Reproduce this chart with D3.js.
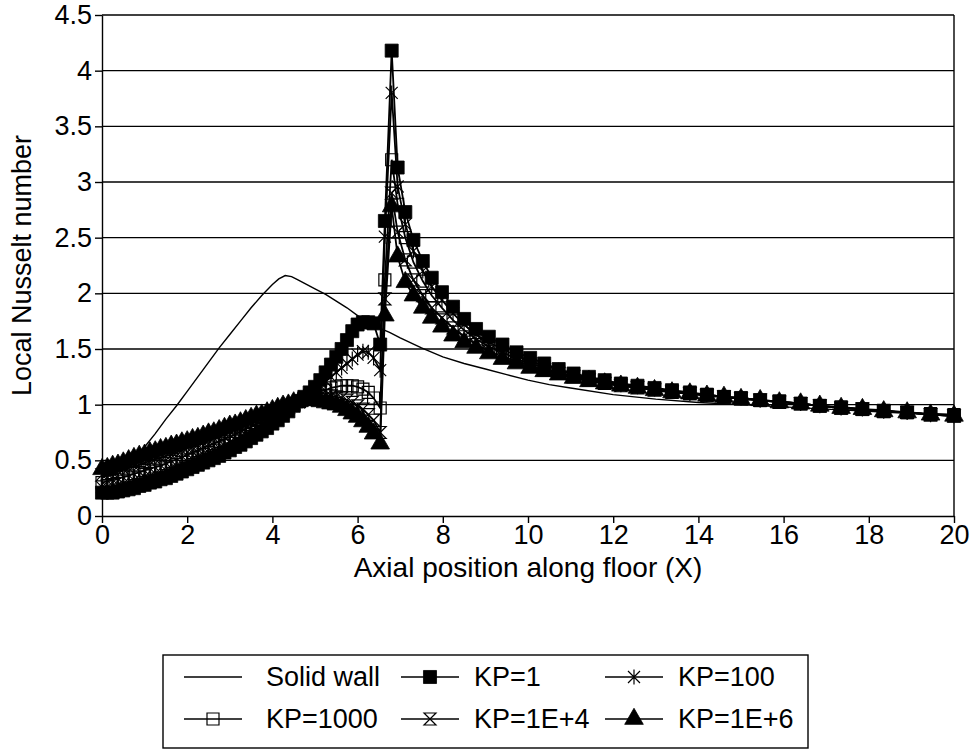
<!DOCTYPE html>
<html><head><meta charset="utf-8">
<script src="https://cdn.jsdelivr.net/npm/d3@7"></script>
<style>body{margin:0;background:#fff} text{font-family:"Liberation Sans",Arial,sans-serif;fill:#000}</style>
</head><body><svg id="c" width="972" height="752"></svg>
<script>
const xGrid = [0,0.125,0.25,0.375,0.5,0.625,0.75,0.875,1,1.125,1.25,1.375,1.5,1.625,1.75,1.875,2,2.125,2.25,2.375,2.5,2.625,2.75,2.875,3,3.125,3.25,3.375,3.5,3.625,3.75,3.875,4,4.125,4.25,4.375,4.5,4.625,4.75,4.875,5,5.125,5.25,5.375,5.5,5.625,5.75,5.875,6,6.125,6.25,6.375,6.53,6.64,6.80,6.94,7.12,7.31,7.53,7.74,7.98,8.24,8.50,8.78,9.08,9.40,9.73,10.05,10.38,10.72,11.07,11.43,11.80,12.18,12.57,12.97,13.38,13.80,14.20,14.60,15.00,15.45,15.90,16.40,16.85,17.35,17.85,18.35,18.90,19.45,20.00];

const kp1 = [0.21,0.21,0.21,0.22,0.23,0.24,0.25,0.27,0.28,0.30,0.31,0.33,0.34,0.36,0.38,0.40,0.42,0.44,0.46,0.48,0.50,0.52,0.54,0.57,0.59,0.62,0.64,0.67,0.70,0.73,0.76,0.79,0.83,0.86,0.90,0.94,0.99,1.03,1.07,1.11,1.16,1.22,1.29,1.36,1.43,1.50,1.58,1.66,1.72,1.74,1.74,1.73,
  1.54,2.65,
  4.18,3.13,2.73,2.48,2.29,2.14,2.01,1.88,1.77,1.68,1.61,1.54,1.47,1.42,1.37,1.32,1.28,1.25,1.22,1.19,1.17,1.15,1.13,1.11,1.09,1.07,1.06,1.04,1.03,1.01,0.99,0.97,0.96,0.94,0.93,0.91,0.90];

const kp100 = [0.26,0.26,0.27,0.28,0.29,0.30,0.32,0.33,0.35,0.36,0.38,0.39,0.41,0.43,0.45,0.47,0.49,0.51,0.53,0.55,0.57,0.59,0.61,0.63,0.66,0.68,0.71,0.73,0.76,0.78,0.81,0.84,0.87,0.90,0.93,0.96,0.99,1.02,1.06,1.09,1.13,1.17,1.21,1.25,1.29,1.33,1.37,1.41,1.45,1.48,1.47,1.42,
  1.31,2.51,
  3.80,2.96,2.62,2.38,2.20,2.06,1.94,1.82,1.72,1.63,1.56,1.50,1.44,1.39,1.35,1.31,1.27,1.24,1.21,1.18,1.16,1.14,1.12,1.10,1.09,1.07,1.06,1.04,1.03,1.01,0.99,0.97,0.96,0.94,0.93,0.91,0.90];

const kp1000 = [0.30,0.31,0.32,0.33,0.35,0.36,0.38,0.39,0.41,0.42,0.44,0.45,0.47,0.49,0.51,0.53,0.55,0.57,0.59,0.61,0.63,0.65,0.67,0.69,0.71,0.73,0.76,0.78,0.80,0.83,0.85,0.88,0.90,0.93,0.95,0.98,1.00,1.03,1.06,1.08,1.10,1.12,1.13,1.15,1.16,1.17,1.17,1.17,1.16,1.14,1.11,1.06,
  0.97,2.12,
  3.20,2.80,2.50,2.28,2.11,1.98,1.87,1.76,1.67,1.59,1.52,1.47,1.41,1.37,1.33,1.29,1.26,1.23,1.20,1.18,1.16,1.14,1.12,1.10,1.09,1.07,1.06,1.04,1.03,1.01,0.99,0.98,0.96,0.95,0.93,0.92,0.91];

const kp1e4 = [0.37,0.38,0.39,0.40,0.42,0.43,0.45,0.46,0.48,0.49,0.51,0.52,0.54,0.55,0.57,0.59,0.61,0.62,0.64,0.66,0.68,0.70,0.72,0.74,0.76,0.78,0.80,0.82,0.84,0.86,0.88,0.90,0.92,0.94,0.96,0.98,1.01,1.03,1.05,1.06,1.07,1.08,1.08,1.08,1.07,1.06,1.04,1.02,0.99,0.96,0.91,0.86,
  0.75,1.95,
  2.90,2.55,2.30,2.12,1.98,1.87,1.78,1.69,1.61,1.54,1.48,1.43,1.39,1.35,1.31,1.28,1.25,1.22,1.19,1.17,1.15,1.13,1.11,1.10,1.08,1.07,1.05,1.04,1.02,1.01,0.99,0.97,0.96,0.94,0.93,0.91,0.90];

const kp1e6 = [0.42,0.43,0.45,0.46,0.48,0.50,0.52,0.54,0.55,0.57,0.58,0.60,0.61,0.63,0.64,0.66,0.67,0.69,0.70,0.72,0.74,0.75,0.77,0.79,0.81,0.82,0.84,0.86,0.88,0.90,0.91,0.93,0.95,0.97,0.99,1.00,1.02,1.03,1.04,1.04,1.04,1.03,1.02,1.01,1.00,0.98,0.95,0.92,0.89,0.85,0.80,0.74,
  0.65,1.80,
  2.78,2.33,2.10,1.98,1.87,1.78,1.70,1.62,1.56,1.51,1.46,1.41,1.37,1.33,1.30,1.27,1.24,1.21,1.19,1.17,1.15,1.13,1.11,1.10,1.08,1.07,1.05,1.04,1.02,1.01,0.99,0.97,0.96,0.94,0.93,0.91,0.90];

const solidX = [0,0.25,0.5,0.75,1,1.25,1.5,1.75,2,2.25,2.5,2.75,3,3.25,3.5,3.75,4,4.15,4.3,4.45,4.6,4.8,5,5.25,5.5,5.75,6,6.25,6.5,6.75,7,7.5,8,8.5,9,9.5,10,10.5,11,12,13,14,15,16,17,18,19,20];
const solidY = [0.38,0.41,0.45,0.52,0.62,0.74,0.87,0.99,1.12,1.25,1.38,1.51,1.63,1.75,1.87,1.98,2.08,2.13,2.16,2.15,2.12,2.08,2.04,1.99,1.93,1.87,1.80,1.74,1.69,1.65,1.60,1.51,1.43,1.37,1.32,1.27,1.22,1.18,1.15,1.09,1.05,1.02,1.00,0.98,0.96,0.94,0.92,0.90];

const yTicks = [0,0.5,1,1.5,2,2.5,3,3.5,4,4.5];
const xTicks = [0,2,4,6,8,10,12,14,16,18,20];
const seriesNames = ["Solid wall","KP=1","KP=100","KP=1000","KP=1E+4","KP=1E+6"];
const xTitle = "Axial position along floor (X)";
const yTitle = "Local Nusselt number";

const svg = d3.select("#c");
const x = d3.scaleLinear().domain([0,20]).range([102,954]);
const y = d3.scaleLinear().domain([0,4.5]).range([516,15]);
const FS = 27;

// gridlines
svg.append("g").selectAll("line").data(yTicks.filter(d=>d>0)).join("line")
  .attr("x1",x(0)).attr("x2",x(20)).attr("y1",d=>y(d)).attr("y2",d=>y(d))
  .attr("stroke","#000").attr("stroke-width",1.4);
svg.append("line").attr("x1",x(20)).attr("x2",x(20)).attr("y1",y(4.5)).attr("y2",y(0))
  .attr("stroke","#000").attr("stroke-width",1.4);

// axes
const gx = svg.append("g").attr("transform",`translate(0,${y(0)})`)
  .call(d3.axisBottom(x).tickValues(xTicks).tickSize(7).tickSizeOuter(0).tickPadding(2).tickFormat(d3.format("d")));
const gy = svg.append("g").attr("transform",`translate(${x(0)},0)`)
  .call(d3.axisLeft(y).tickValues(yTicks).tickSize(7).tickSizeOuter(0).tickPadding(3).tickFormat(d3.format("~g")));
[gx,gy].forEach(g=>{
  g.select(".domain").attr("stroke","#000").attr("stroke-width",1.4);
  g.selectAll(".tick line").attr("stroke","#000").attr("stroke-width",1.4);
  g.selectAll(".tick text").attr("font-size",FS).attr("font-family","Liberation Sans, Arial, sans-serif").attr("fill","#000");
});

svg.append("text").attr("x",(x(0)+x(20))/2).attr("y",577).attr("text-anchor","middle")
  .attr("font-size",28).text(xTitle);
svg.append("text").attr("transform",`translate(31,${(y(0)+y(4.5))/2}) rotate(-90)`)
  .attr("text-anchor","middle").attr("font-size",FS).text(yTitle);

// marker shapes
const markers = {
  square: g => g.append("path").attr("d", d3.symbol(d3.symbolSquare, 170)()).attr("fill","#000").attr("stroke","#000").attr("stroke-width",0.8),
  star: g => g.append("path").attr("d","M-6,-6L6,6M-6,6L6,-6M0,-7.5L0,7.5").attr("fill","none").attr("stroke","#000").attr("stroke-width",1.2),
  open: g => g.append("path").attr("d","M-6,-6H6V6H-6Z").attr("fill","none").attr("stroke","#000").attr("stroke-width",1.2),
  hour: g => g.append("path").attr("d","M-6,-6L6,-6L-6,6L6,6Z").attr("fill","none").attr("stroke","#000").attr("stroke-width",1.2),
  tri: g => g.append("path").attr("d", d3.symbol(d3.symbolTriangle, 150)()).attr("fill","#000").attr("stroke","#000").attr("stroke-width",0.8)
};

const kpSeries = [
  {name: seriesNames[1], vals: kp1, m: "square"},
  {name: seriesNames[2], vals: kp100, m: "star"},
  {name: seriesNames[3], vals: kp1000, m: "open"},
  {name: seriesNames[4], vals: kp1e4, m: "hour"},
  {name: seriesNames[5], vals: kp1e6, m: "tri"}
];

const line = d3.line().x(d=>x(d[0])).y(d=>y(d[1]));
const plot = svg.append("g");
plot.append("path").datum(solidX.map((v,i)=>[v,solidY[i]])).attr("d",line)
  .attr("fill","none").attr("stroke","#000").attr("stroke-width",1.4);

kpSeries.forEach(s=>{
  const pts = xGrid.map((v,i)=>[v,s.vals[i]]);
  const g = plot.append("g");
  g.append("path").datum(pts).attr("d",line).attr("fill","none").attr("stroke","#000").attr("stroke-width",1.8);
  g.selectAll("g.m").data(pts).join("g").attr("class","m")
    .attr("transform",d=>`translate(${x(d[0])},${y(d[1])})`)
    .each(function(){ markers[s.m](d3.select(this)); });
});

// legend
const lg = svg.append("g");
lg.append("rect").attr("x",163).attr("y",655).attr("width",645).attr("height",93)
  .attr("fill","none").attr("stroke","#000").attr("stroke-width",1.4);
const legendItems = [
  {name: seriesNames[0], m: null, col:0, row:0},
  {name: seriesNames[1], m: "square", col:1, row:0},
  {name: seriesNames[2], m: "star", col:2, row:0},
  {name: seriesNames[3], m: "open", col:0, row:1},
  {name: seriesNames[4], m: "hour", col:1, row:1},
  {name: seriesNames[5], m: "tri", col:2, row:1}
];
const colX = [184, 401, 605], rowY = [677, 719];
legendItems.forEach(it=>{
  const lx = colX[it.col], ly = rowY[it.row];
  const g = lg.append("g");
  g.append("line").attr("x1",lx).attr("x2",lx+58).attr("y1",ly).attr("y2",ly).attr("stroke","#000").attr("stroke-width",1.5);
  if (it.m) { const mg = g.append("g").attr("transform",`translate(${lx+29},${ly})`); markers[it.m](mg); }
  g.append("text").attr("x",lx+(it.col===0?82:73)).attr("y",ly).attr("dy","0.35em").attr("font-size",FS).text(it.name);
});
</script></body></html>
